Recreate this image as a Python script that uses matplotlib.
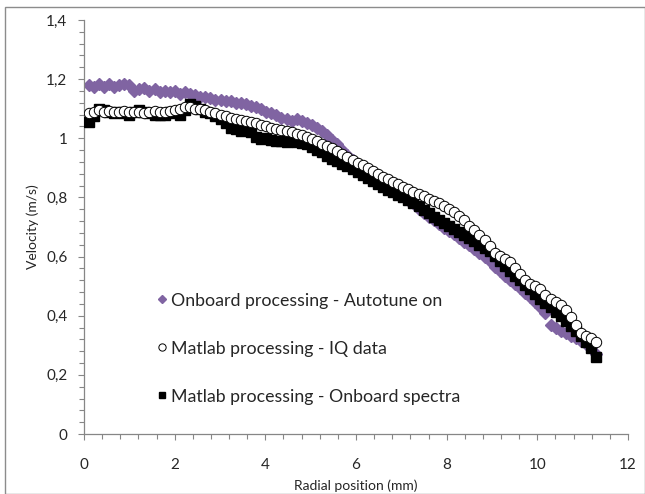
import matplotlib
matplotlib.use("Agg")
import matplotlib.pyplot as plt
from matplotlib.ticker import MultipleLocator, FuncFormatter
from matplotlib.patches import Rectangle

radial_mm = [
    0.1, 0.212, 0.324, 0.436, 0.548, 0.66, 0.772, 0.884, 0.996, 1.108,
    1.22, 1.332, 1.444, 1.556, 1.668, 1.78, 1.892, 2.004, 2.116, 2.228,
    2.34, 2.452, 2.564, 2.676, 2.788, 2.9, 3.012, 3.124, 3.236, 3.348,
    3.46, 3.572, 3.684, 3.796, 3.908, 4.02, 4.132, 4.244, 4.356, 4.468,
    4.58, 4.692, 4.804, 4.916, 5.028, 5.14, 5.252, 5.364, 5.476, 5.588,
    5.7, 5.812, 5.924, 6.036, 6.148, 6.26, 6.372, 6.484, 6.596, 6.708,
    6.82, 6.932, 7.044, 7.156, 7.268, 7.38, 7.492, 7.604, 7.716, 7.828,
    7.94, 8.052, 8.164, 8.276, 8.388, 8.5, 8.612, 8.724, 8.836, 8.948,
    9.06, 9.172, 9.284, 9.396, 9.508, 9.62, 9.732, 9.844, 9.956, 10.068,
    10.18, 10.292, 10.404, 10.516, 10.628, 10.74, 10.852, 10.964, 11.076, 11.188,
    11.3,
]

onboard_autotune = [
    1.18, 1.175, 1.185, 1.175, 1.185, 1.175, 1.18, 1.185, 1.18, 1.16,
    1.165, 1.17, 1.16, 1.165, 1.155, 1.16, 1.155, 1.16, 1.15, 1.155,
    1.15, 1.145, 1.14, 1.14, 1.135, 1.13, 1.13, 1.125, 1.125, 1.12,
    1.12, 1.115, 1.11, 1.105, 1.10, 1.09, 1.085, 1.08, 1.07, 1.065,
    1.06, 1.065, 1.06, 1.05, 1.045, 1.035, 1.025, 1.01, 0.995, 0.98,
    0.96, 0.945, 0.928, 0.912, 0.898, 0.886, 0.874, 0.862, 0.85, 0.838,
    0.826, 0.815, 0.804, 0.792, 0.78, 0.762, 0.748, 0.735, 0.722, 0.71,
    0.698, 0.688, 0.676, 0.664, 0.65, 0.638, 0.624, 0.611, 0.598, 0.584,
    0.565, 0.55, 0.535, 0.522, 0.508, 0.494, 0.478, 0.462, 0.446, 0.428,
    0.41, 0.37, 0.36, 0.35, 0.34, 0.33, 0.325, 0.315, 0.305, 0.295,
    0.27,
]

matlab_iq = [
    1.085, 1.09, 1.095, 1.09, 1.092, 1.088, 1.09, 1.093, 1.09, 1.088,
    1.09, 1.087, 1.09, 1.092, 1.088, 1.09, 1.093, 1.095, 1.10, 1.105,
    1.105, 1.10, 1.098, 1.095, 1.09, 1.085, 1.08, 1.075, 1.07, 1.065,
    1.062, 1.058, 1.055, 1.05, 1.045, 1.04, 1.036, 1.032, 1.028, 1.024,
    1.02, 1.015, 1.01, 1.005, 0.998, 0.99, 0.982, 0.974, 0.966, 0.957,
    0.948, 0.938, 0.928, 0.918, 0.908, 0.898, 0.888, 0.879, 0.87, 0.861,
    0.852, 0.844, 0.836, 0.828, 0.82, 0.812, 0.804, 0.796, 0.788, 0.781,
    0.772, 0.762, 0.752, 0.738, 0.722, 0.705, 0.69, 0.672, 0.655, 0.636,
    0.612, 0.602, 0.592, 0.58, 0.56, 0.54, 0.52, 0.506, 0.499, 0.49,
    0.47, 0.458, 0.448, 0.437, 0.418, 0.395, 0.37, 0.343, 0.332, 0.325,
    0.312,
]

matlab_onboard_spectra = [
    1.055, 1.075, 1.10, 1.095, 1.09, 1.085, 1.09, 1.087, 1.08, 1.09,
    1.095, 1.09, 1.085, 1.08, 1.078, 1.08, 1.09, 1.085, 1.08, 1.095,
    1.115, 1.11, 1.10, 1.09, 1.085, 1.075, 1.065, 1.05, 1.035, 1.03,
    1.025, 1.03, 1.02, 1.005, 0.998, 1.0, 0.995, 0.992, 0.99, 0.988,
    0.99, 0.988, 0.985, 0.98, 0.97, 0.96, 0.952, 0.94, 0.93, 0.922,
    0.914, 0.905, 0.895, 0.886, 0.876, 0.866, 0.856, 0.846, 0.836, 0.826,
    0.817, 0.808, 0.80, 0.79, 0.78, 0.77, 0.758, 0.746, 0.735, 0.724,
    0.714, 0.703, 0.693, 0.683, 0.673, 0.662, 0.651, 0.64, 0.629, 0.618,
    0.603, 0.585, 0.567, 0.55, 0.535, 0.52, 0.505, 0.49, 0.474, 0.458,
    0.443, 0.428, 0.413, 0.398, 0.383, 0.366, 0.35, 0.333, 0.312, 0.29,
    0.262,
]

series_labels = [
    "Onboard processing - Autotune on",
    "Matlab processing - IQ data",
    "Matlab processing - Onboard spectra",
]

plt.rcParams['font.family'] = ['Lato', 'DejaVu Sans']
text_color = '#262626'
axis_color = '#868686'

fig = plt.figure(figsize=(6.45, 4.94), dpi=100)
fig.patches.append(Rectangle((5 / 645, 0), 1 - 5 / 645, 1 - 7 / 494,
                             transform=fig.transFigure, fill=False,
                             edgecolor='#8c8c8c', linewidth=1.0))
ax = fig.add_axes([84 / 645, 1 - 434 / 494, 544 / 645, 414 / 494])

h1, = ax.plot(radial_mm, onboard_autotune, linestyle='none', marker='D',
              markersize=6, color='#8064A2', markeredgecolor='#8064A2', zorder=2)
h3, = ax.plot(radial_mm, matlab_onboard_spectra, linestyle='none', marker='s',
              markersize=6.5, color='black', zorder=3)
h2, = ax.plot(radial_mm, matlab_iq, linestyle='none', marker='o',
              markersize=7.5, markerfacecolor='white', markeredgecolor='black',
              markeredgewidth=0.7, zorder=4)

ax.set_xlim(0, 12)
ax.set_ylim(0, 1.4)
ax.xaxis.set_major_locator(MultipleLocator(2))
ax.xaxis.set_minor_locator(MultipleLocator(0.4))
ax.yaxis.set_major_locator(MultipleLocator(0.2))
ax.yaxis.set_minor_locator(MultipleLocator(0.04))


def comma_fmt(v, pos):
    s = f"{v:.1f}".rstrip('0').rstrip('.')
    return s.replace('.', ',')


ax.xaxis.set_major_formatter(FuncFormatter(comma_fmt))
ax.yaxis.set_major_formatter(FuncFormatter(comma_fmt))

for s in ['top', 'right']:
    ax.spines[s].set_visible(False)
for s in ['left', 'bottom']:
    ax.spines[s].set_color(axis_color)
    ax.spines[s].set_linewidth(0.9)

ax.tick_params(axis='both', which='both', direction='out', color=axis_color,
               labelcolor=text_color, labelsize=11)
ax.tick_params(axis='both', which='major', length=4, width=0.8)
ax.tick_params(axis='both', which='minor', length=3.5, width=0.8)
ax.tick_params(axis='x', which='major', pad=13)
ax.tick_params(axis='y', which='major', pad=8)

ax.set_xlabel("Radial position (mm)", fontsize=10, color=text_color, labelpad=6)
ax.set_ylabel("Velocity (m/s)", fontsize=10, color=text_color, labelpad=5)

leg = ax.legend([h1, h2, h3], series_labels, loc='upper left',
                bbox_to_anchor=(0.1, 0.38), frameon=False, fontsize=12.8,
                labelspacing=1.8, handletextpad=0.15, handlelength=0.8,
                markerscale=0.7)
for t in leg.get_texts():
    t.set_color(text_color)

fig.savefig("out.png", dpi=100)
